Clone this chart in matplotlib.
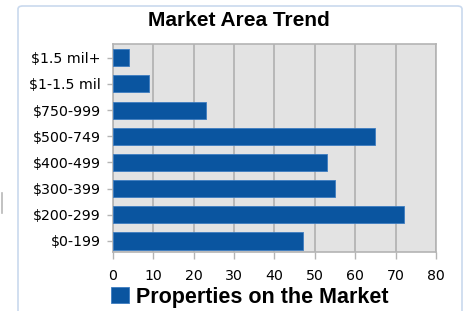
import matplotlib
matplotlib.use("Agg")
import matplotlib.pyplot as plt
from matplotlib.patches import FancyBboxPatch
from matplotlib.lines import Line2D

categories = ["$0-199", "$200-299", "$300-399", "$400-499",
              "$500-749", "$750-999", "$1-1.5 mil", "$1.5 mil+"]
values = [47, 72, 55, 53, 65, 23, 9, 4]
series_name = "Properties on the Market"
title = "Market Area Trend"
xticks = [0, 10, 20, 30, 40, 50, 60, 70, 80]

W, H = 468, 311
fig = plt.figure(figsize=(W / 100, H / 100), dpi=100)
fig.patch.set_facecolor("white")

# outer frame
frame = FancyBboxPatch((18 / W, -0.05), (462 - 18) / W, (H - 6) / H + 0.05,
                       boxstyle="round,pad=0,rounding_size=0.01",
                       transform=fig.transFigure, facecolor="white",
                       edgecolor="#c9d9ee", linewidth=1.2, zorder=-5)
fig.patches.append(frame)
fig.lines.append(Line2D([1.5 / W, 1.5 / W], [1 - 193 / H, 1 - 213 / H],
                        transform=fig.transFigure, color="#b8b8b8", lw=1.2))

left, right, top, bottom = 112.7, 436, 44, 252
ax = fig.add_axes([left / W, 1 - bottom / H, (right - left) / W, (bottom - top) / H])
ax.set_zorder(2)
ax.set_facecolor("#e3e3e3")

ypos = list(range(len(categories)))
ax.barh(ypos, values, height=0.65, color="#0a55a0", edgecolor="#3d7cc0",
        linewidth=0.6, zorder=3, label=series_name)

ax.set_xlim(0, 80)
ax.set_ylim(-0.42, 7.52)
ax.set_xticks(xticks)
ax.set_xticklabels([str(t) for t in xticks], fontsize=10.2, family="DejaVu Sans")
ax.set_yticks(ypos)
ax.set_yticklabels(categories, fontsize=10.2, family="DejaVu Sans")
ax.xaxis.grid(True, color="#b4b4b4", linewidth=1.3, zorder=1)
ax.set_axisbelow(True)
for s in ax.spines.values():
    s.set_color("#b4b4b4")
    s.set_linewidth(1.2)
ax.tick_params(axis="x", length=5, width=1, color="#b4b4b4", pad=7.5)
ax.tick_params(axis="y", length=4, width=1, color="#b4b4b4", pad=4.5)

fig.text((143 + 335) / 2 / W, 1 - 20 / H, title, ha="center", va="center",
         fontsize=15, fontweight="bold", family="Liberation Sans")

leg = fig.legend(loc="center", bbox_to_anchor=(250 / W, 1 - 297 / H),
                 frameon=False, prop={"family": "Liberation Sans", "weight": "bold", "size": 15.5},
                 handlelength=0.8, handleheight=0.8, handletextpad=0.35)

fig.savefig("out.png", dpi=100)
